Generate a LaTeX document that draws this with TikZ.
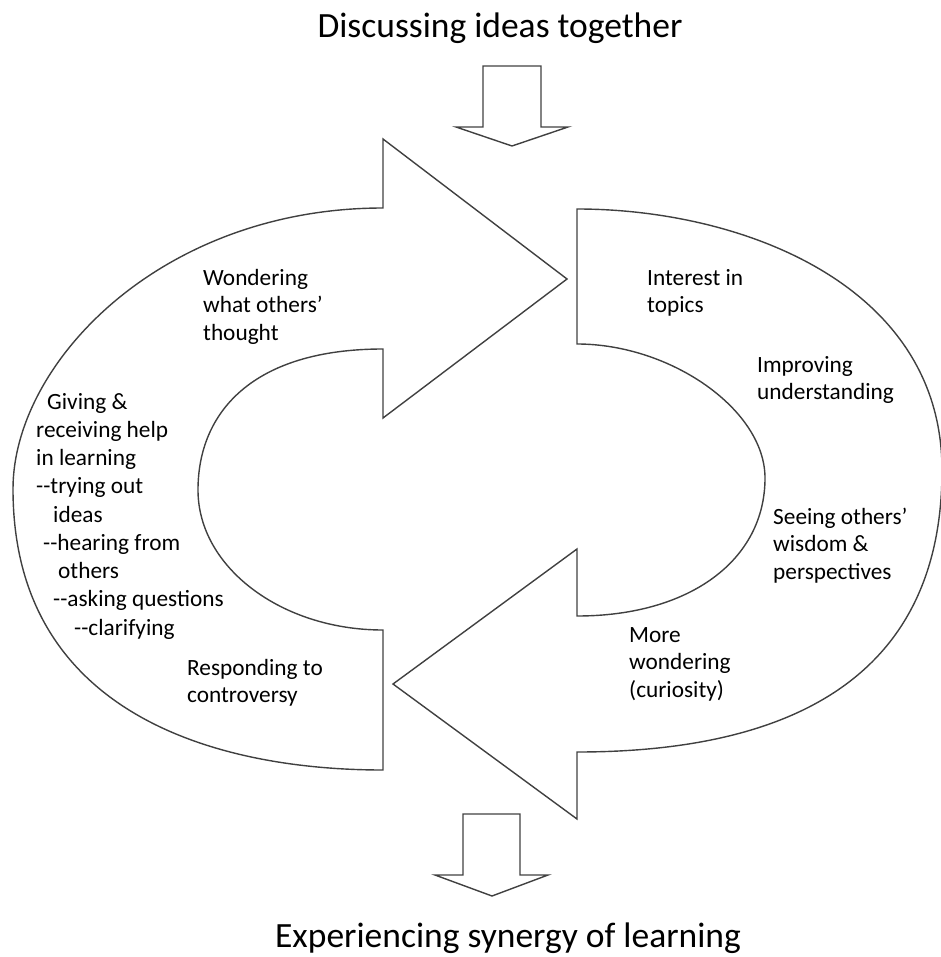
\documentclass[tikz,border=0pt]{standalone}
\usepackage{fontspec}
\setmainfont{Carlito}
\usepackage{tikz}

\begin{document}
\begin{tikzpicture}[x=1pt,y=-1pt,
  loopline/.style={draw=black!75,line width=1.4pt,line join=miter},
  note/.style={anchor=base west,inner sep=0pt,align=left,font=\fontsize{23.3}{27.5}\selectfont},
  caption/.style={anchor=base,inner sep=0pt,font=\fontsize{35.5}{42}\selectfont}]
\useasboundingbox (0,0) rectangle (940,957);
\coordinate (T1) at (383,139);
\coordinate (T2) at (567,279);
\coordinate (T3) at (383,418);
\coordinate (B1) at (577,549);
\coordinate (B2) at (393,684);
\coordinate (B3) at (577,819);
\draw[loopline] (383,208) .. controls (161,208) and (13,363) .. (13,489)
  .. controls (13,714) and (216,770) .. (383,770) -- (383,630)
  .. controls (281,630) and (198,567) .. (198,490)
  .. controls (198,412) and (253,349) .. (383,349) -- (T3) -- (T2) -- (T1) -- cycle;
\draw[loopline] (577,209) .. controls (742,209) and (942,285) .. (942,470)
  .. controls (942,680) and (787,752) .. (577,752) -- (B3) -- (B2) -- (B1) -- (577,616)
  .. controls (690,616) and (765,560) .. (765,478)
  .. controls (765,410) and (671,344) .. (577,344) -- cycle;
\draw[loopline] (483,66)--(541,66)--(541,127)--(568,127)--(512,146)--(456,127)--(483,127)--cycle;
\draw[loopline] (463,814)--(520,814)--(520,875)--(548,875)--(492,896)--(435,875)--(463,875)--cycle;
\node[caption] (top) at (500,38) {Discussing ideas together};
\node[caption] (bottom) at (508,947) {Experiencing synergy of learning};
% base anchor sits on the last line
\node[note] (wonder) at (203,340) {Wondering\\what others'\\thought};
\node[note] (interest) at (647,312.5) {Interest in\\topics};
\node[note] (improve) at (757,399.5) {Improving\\understanding};
\node[note] (seeing) at (773,579) {Seeing others'\\wisdom \&\\perspectives};
\node[note] (more) at (629,697) {More\\wondering\\(curiosity)};
\node[note] (respond) at (187,702.5) {Responding to\\controversy};
\node[note,font=\fontsize{23.3}{28.25}\selectfont] (giving) at (36,635) {\hspace*{11pt}Giving \&\\receiving help\\in learning\\{-}{-}trying out\\\hspace*{17pt}ideas\\\hspace*{7pt}{-}{-}hearing from\\\hspace*{22pt}others\\\hspace*{17pt}{-}{-}asking questions\\\hspace*{38pt}{-}{-}clarifying};
\end{tikzpicture}
\end{document}
